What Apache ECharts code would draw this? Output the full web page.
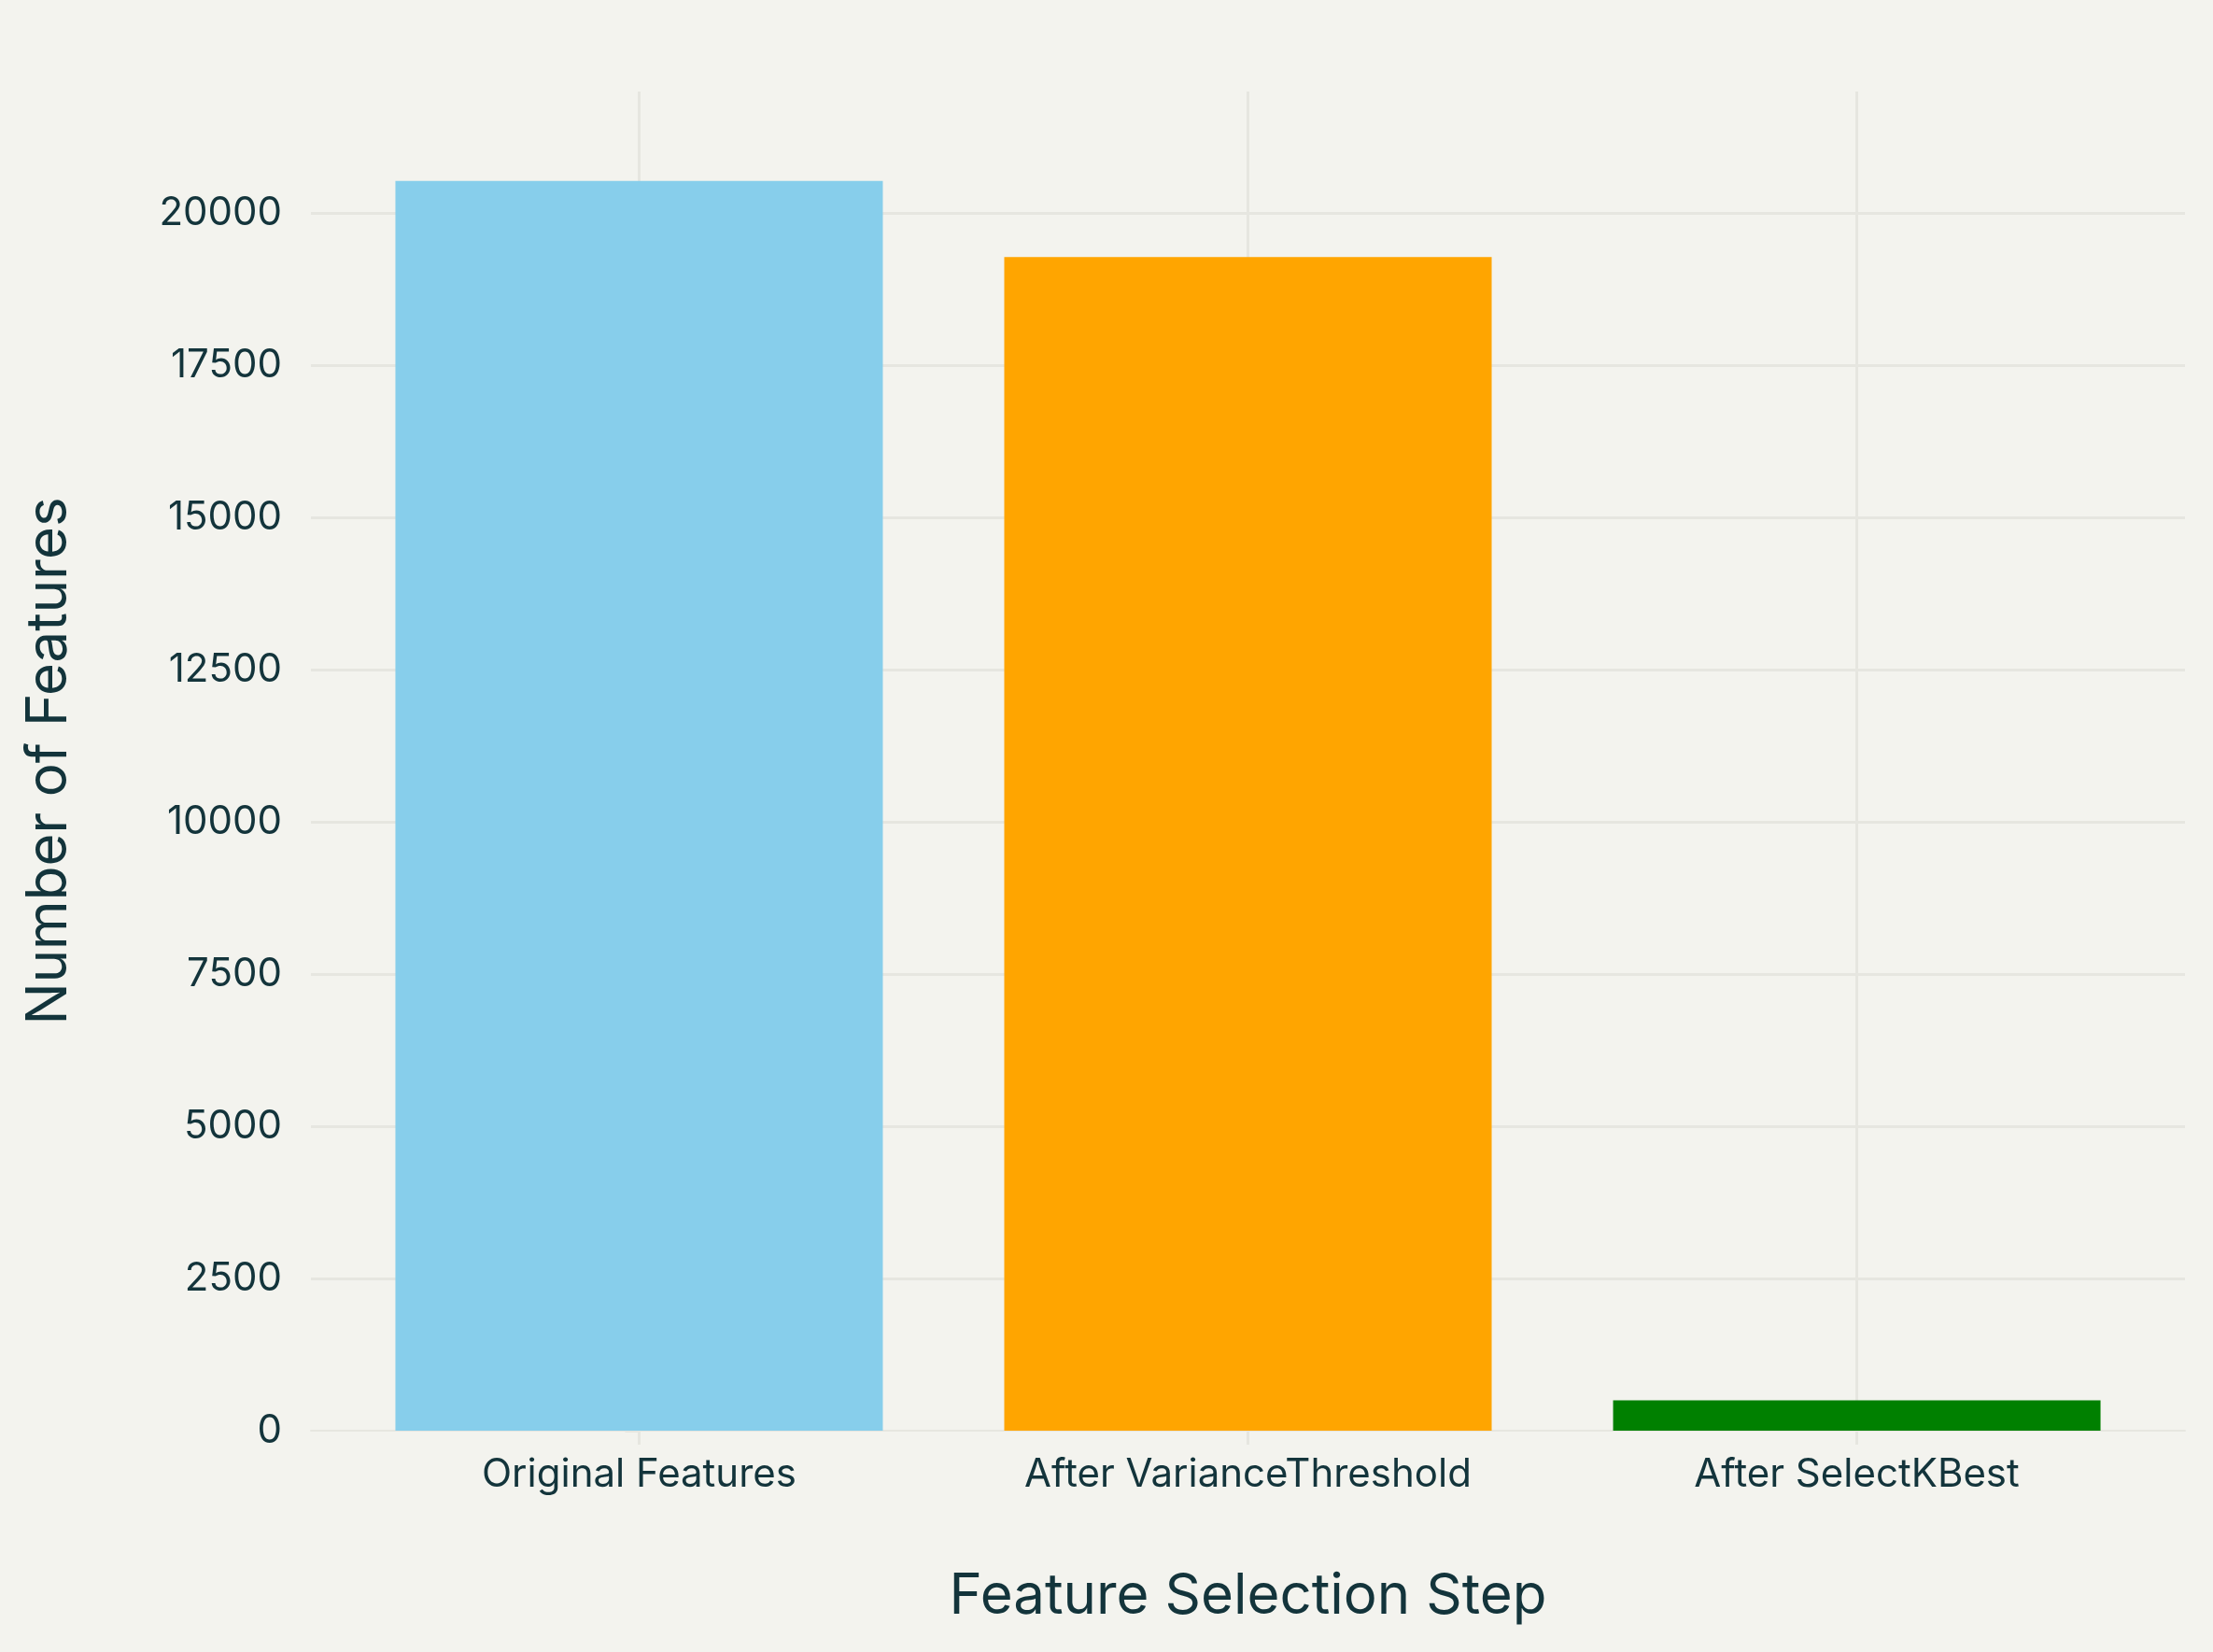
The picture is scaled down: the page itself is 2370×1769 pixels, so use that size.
<!DOCTYPE html>
<html>
<head>
<meta charset="utf-8">
<script src="https://cdn.jsdelivr.net/npm/echarts@6/dist/echarts.min.js"></script>
<style>
html,body{margin:0;padding:0;background:#f3f3ee;}
#c{width:2370px;height:1769px;}
</style>
</head>
<body>
<div id="c"></div>
<script>
const categories = ['Original Features', 'After VarianceThreshold', 'After SelectKBest'];
const featureCounts = [20531, 19280, 500];
const barColors = ['#87CEEB', '#FFA500', '#008000'];
const yTickValues = [0, 2500, 5000, 7500, 10000, 12500, 15000, 17500, 20000];
const yGridValues = [2500, 5000, 7500, 10000, 12500, 15000, 17500, 20000];
const xTickValues = [0, 1, 2];

const textColor = '#13343b';
const gridColor = '#e6e6e0';
const fontFamily = 'Inter, "Liberation Sans", Arial, sans-serif';

const chart = echarts.init(document.getElementById('c'), null, {renderer: 'canvas'});
chart.setOption({
  backgroundColor: '#f3f3ee',
  animation: false,
  grid: {left: 333, right: 30, top: 98, bottom: 237},
  xAxis: {
    type: 'value',
    min: -0.539,
    max: 2.539,
    name: 'Feature Selection Step',
    nameLocation: 'middle',
    nameGap: 148,
    nameTextStyle: {fontFamily: fontFamily, fontSize: 60, color: textColor},
    axisLine: {show: true, lineStyle: {color: gridColor, width: 2}},
    axisTick: {show: true, customValues: xTickValues, length: 15, lineStyle: {color: gridColor, width: 3}},
    axisLabel: {
      customValues: xTickValues,
      formatter: function (v) { return categories[Math.round(v)]; },
      fontFamily: fontFamily, fontSize: 42, color: textColor, margin: 26
    },
    splitLine: {show: true, lineStyle: {color: gridColor, width: 3}}
  },
  yAxis: [{
    type: 'value',
    min: 0,
    max: 22000,
    name: 'Number of Features',
    nameLocation: 'middle',
    nameGap: 250,
    nameTextStyle: {fontFamily: fontFamily, fontSize: 60, color: textColor},
    axisLine: {show: false},
    axisTick: {show: true, customValues: yTickValues, length: 15, lineStyle: {color: gridColor, width: 3}},
    axisLabel: {
      customValues: yTickValues,
      formatter: function (v) { return String(v); },
      fontFamily: fontFamily, fontSize: 42, color: textColor, margin: 31
    },
    splitLine: {show: false}
  }, {
    type: 'value',
    min: 0,
    max: 22000,
    position: 'left',
    axisLine: {show: false},
    axisTick: {show: false, customValues: yGridValues},
    axisLabel: {show: false, customValues: yGridValues},
    splitLine: {show: true, lineStyle: {color: gridColor, width: 3}}
  }],
  series: [{
    type: 'bar',
    barWidth: 522,
    data: featureCounts.map(function (v, i) {
      return {value: [i, v], itemStyle: {color: barColors[i]}};
    })
  }]
});
</script>
</body>
</html>
